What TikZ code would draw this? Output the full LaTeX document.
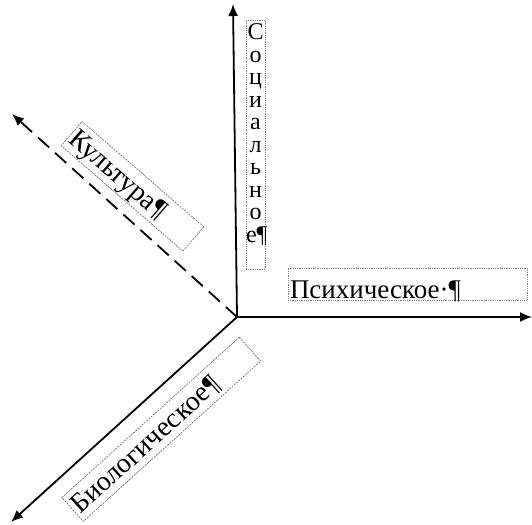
\documentclass[tikz,border=0pt]{standalone}
\usepackage{fontspec}
\setmainfont{Liberation Serif}
\usetikzlibrary{arrows.meta}
\begin{document}
\begin{tikzpicture}[x=1pt, y=-1pt,
    axis/.style={line width=1.8pt, -{Latex[length=12pt,width=10pt]}},
    dbox/.style={draw=gray, densely dotted, line width=0.8pt, inner sep=0pt},
    rbox/.style={draw=gray!80!black, dash pattern=on 2pt off 1pt, line width=0.6pt,
              inner xsep=2pt, inner ysep=1pt, align=left,
              text height=24pt, text depth=6pt},
    lbl/.style={font=\fontsize{28}{28}\selectfont}]
    \useasboundingbox (0,0) rectangle (532,524);
    % axes
    \coordinate (o) at (237,317);
    \coordinate (soc end) at (233,4);
    \coordinate (psy end) at (532,317);
    \coordinate (bio end) at (11,522);
    \coordinate (cul end) at (12,114);
    \draw[axis] (o) -- (soc end);
    \draw[axis] (o) -- (psy end);
    \draw[axis] (o) -- (bio end);
    \draw[axis, dash pattern=on 15pt off 8pt] (o) -- (cul end);
    % labels
    \node[dbox, minimum width=19pt, minimum height=249pt, font=\fontsize{24}{22.5}\selectfont]
        (soc) at (255.5,144.5)
        {\parbox[c][241pt][t]{19pt}{\centering С\\о\\ц\\и\\а\\л\\ь\\н\\о\\е¶}};
    \node[dbox, font=\fontsize{27}{27}\selectfont, minimum width=239pt, minimum height=32pt,
        text width=235pt, inner xsep=2pt, inner ysep=1pt, align=left,
        text height=29pt, text depth=1pt]
        (psy) at (407.5,284) {Психическое·¶};
    \node[rbox, lbl, rotate=-40.9, minimum width=161pt, text width=157pt]
        (cul) at (132.5,186.3) {Культура¶};
    \node[rbox, lbl, rotate=42.1, minimum width=239pt, text width=235pt]
        (bio) at (161.3,429.3) {Биологическое¶};
\end{tikzpicture}
\end{document}
